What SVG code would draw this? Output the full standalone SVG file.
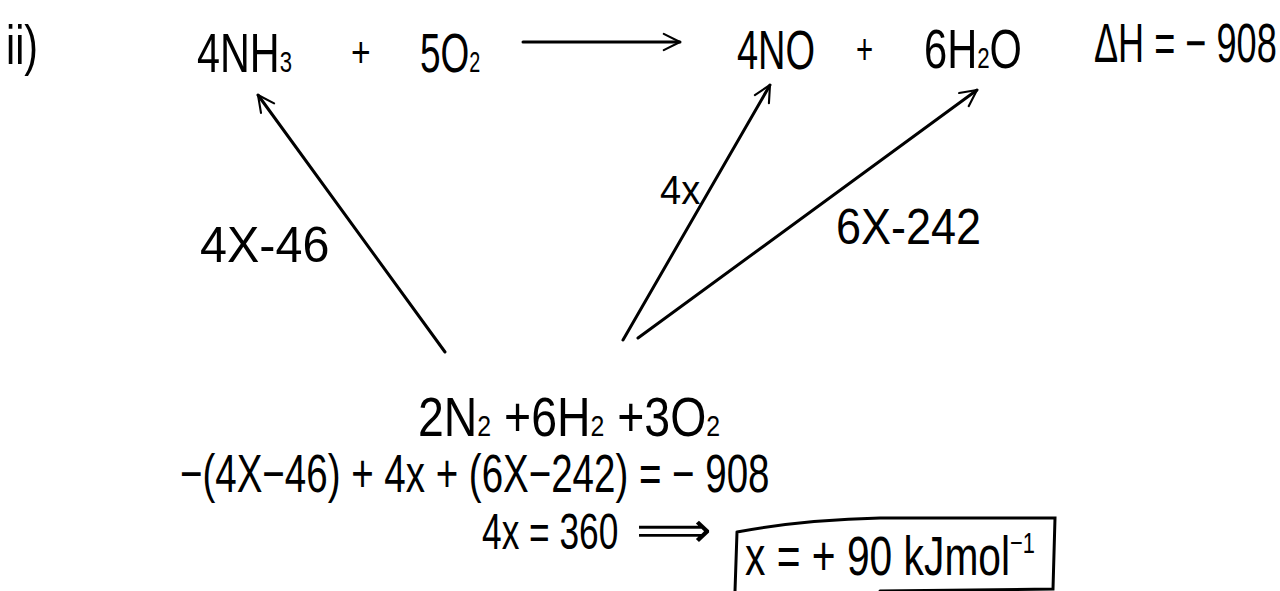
<svg xmlns="http://www.w3.org/2000/svg" width="1280" height="591" viewBox="0 0 1280 591">
<style>
text { font-family: "Liberation Sans", Arial, sans-serif; fill:#000; }
.big { font-size: 56px; }
.eq { font-size: 54px; }
.res { font-size: 50px; }
.mid { font-size: 50px; }
.pl { font-size: 42px; }
.sm { font-size: 40px; }
.sub { font-size: 30px; }
.ln { stroke:#000; stroke-width:3; fill:none; stroke-linecap:round; }
</style>
<defs>
<marker id="ah" viewBox="0 0 12 12" refX="11" refY="6" markerWidth="6.5" markerHeight="6.5" orient="auto" markerUnits="strokeWidth"><path d="M1,1 L11,6 L1,11" fill="none" stroke="#000" stroke-width="1.3" stroke-linecap="round" stroke-linejoin="round"/></marker>
</defs>
<rect width="1280" height="591" fill="#fff"/>
<g id="label-ii"><text class="big" transform="translate(6,64) scale(0.735,1)">ii)</text></g>
<g id="reactants">
<text class="big" transform="translate(197,72) scale(0.738,1)">4NH<tspan class="sub">3</tspan></text>
<text class="pl" transform="translate(351,67) scale(0.8,1)">+</text>
<text class="big" transform="translate(420,72) scale(0.66,1)">5O<tspan class="sub">2</tspan></text>
</g>
<g id="products">
<text class="big" transform="translate(737,69) scale(0.678,1)">4NO</text>
<text class="pl" transform="translate(856,64) scale(0.7,1)">+</text>
<text class="big" transform="translate(924,68) scale(0.743,1)">6H<tspan class="sub">2</tspan>O</text>
</g>
<g id="deltaH"><text class="big" transform="translate(1094,62) scale(0.645,1)">ΔH = − 908</text></g>
<g id="elements"><text class="big" transform="translate(418,436) scale(0.829,1)">2N<tspan class="sub">2</tspan> +6H<tspan class="sub">2</tspan> +3O<tspan class="sub">2</tspan></text></g>
<g id="connectors">
<line class="ln" x1="523" y1="42" x2="680" y2="42" marker-end="url(#ah)"/>
<line class="ln" x1="445" y1="352" x2="258" y2="95" marker-end="url(#ah)"/>
<line class="ln" x1="623" y1="340" x2="770" y2="85" marker-end="url(#ah)"/>
<line class="ln" x1="638" y1="338" x2="977" y2="90" marker-end="url(#ah)"/>
<text class="mid" transform="translate(200,262) scale(0.97,1)">4X-46</text>
<text class="sm" transform="translate(660,204) scale(0.95,1)">4x</text>
<text class="mid" transform="translate(836,244) scale(0.9,1)">6X-242</text>
</g>
<g id="working">
<text class="eq" transform="translate(180,492) scale(0.713,1)">−(4X−46) + 4x + (6X−242) = − 908</text>
<text class="res" transform="translate(482,549) scale(0.706,1)">4x = 360</text>
<text class="res" x="636" y="547" textLength="76" lengthAdjust="spacingAndGlyphs">⟹</text>
</g>
<g id="answer">
<path class="ln" d="M737,532 Q800,520 880,518 L1055,518 L1053,589 L880,591 M737,532 L735,591"/>
<text class="big" transform="translate(745,575) scale(0.728,1)">x = + 90 kJmol<tspan class="sub" dy="-22">−1</tspan></text>
</g>
</svg>
